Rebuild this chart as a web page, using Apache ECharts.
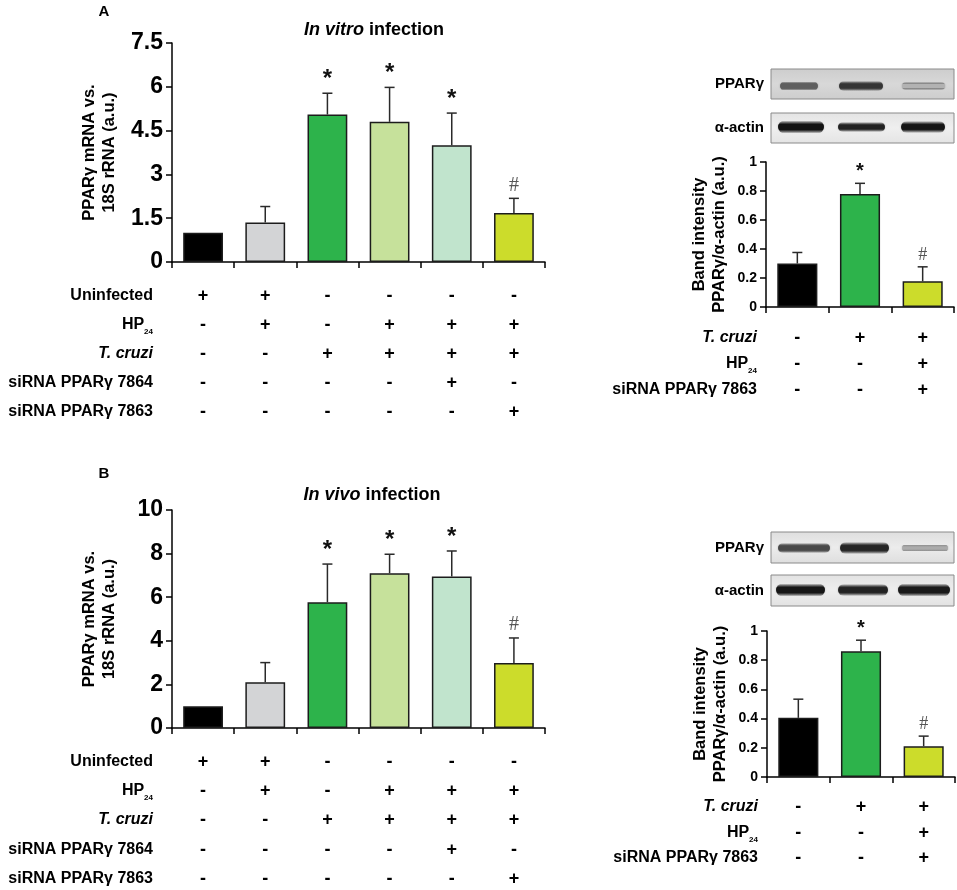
<!DOCTYPE html>
<html>
<head>
<meta charset="utf-8">
<script src="https://cdn.jsdelivr.net/npm/echarts@6/dist/echarts.min.js"></script>
<style>html,body{margin:0;padding:0;background:#fff;}#chart{width:957px;height:890px;}</style>
</head>
<body>
<div id="chart"></div>
<script>
// ---------------- DATA ----------------
const mainCategories = ['1', '2', '3', '4', '5', '6'];
const smallCategories = ['1', '2', '3'];

const vitroMeans = [1.0, 1.35, 5.05, 4.8, 4.0, 1.68];
const vitroSD    = [0, 0.55, 0.73, 1.18, 1.1, 0.5];
const vitroMarks = ['', '', '*', '*', '*', '#'];

const vivoMeans = [1.0, 2.1, 5.77, 7.1, 6.95, 2.98];
const vivoSD    = [0, 0.9, 1.75, 0.87, 1.17, 1.15];
const vivoMarks = ['', '', '*', '*', '*', '#'];

const blotAMeans = [0.30, 0.78, 0.177];
const blotASD    = [0.076, 0.073, 0.10];
const blotAMarks = ['', '*', '#'];

const blotBMeans = [0.405, 0.861, 0.211];
const blotBSD    = [0.128, 0.076, 0.069];
const blotBMarks = ['', '*', '#'];

const mainRowNames = ['Uninfected', 'HP24', 'T. cruzi', 'siRNA PPARγ 7864', 'siRNA PPARγ 7863'];
const mainRows = [
  ['+', '+', '-', '-', '-', '-'],
  ['-', '+', '-', '+', '+', '+'],
  ['-', '-', '+', '+', '+', '+'],
  ['-', '-', '-', '-', '+', '-'],
  ['-', '-', '-', '-', '-', '+']
];
const smallRowNames = ['T. cruzi', 'HP24', 'siRNA PPARγ 7863'];
const smallRows = [
  ['-', '+', '+'],
  ['-', '-', '+'],
  ['-', '-', '+']
];

const vitroTicks = {min: 0, max: 7.5, interval: 1.5};
const vivoTicks = {min: 0, max: 10, interval: 2};
const blotTicks = {min: 0, max: 1, interval: 0.2};

// ---------------- STYLE ----------------
const FONT = '"Liberation Sans", Arial, Helvetica, sans-serif';
const mainColors = ['#000000', '#d3d4d6', '#2db34b', '#c6e19b', '#c1e4cd', '#ccdc2b'];
const smallColors = ['#000000', '#2db34b', '#ccdc2b'];

const grids = [
  {left: 172, top: 43, width: 373, height: 219},
  {left: 172, top: 510, width: 373, height: 218},
  {left: 766, top: 162, width: 188, height: 145},
  {left: 767, top: 631, width: 188, height: 146}
];

const xAxes = [], yAxes = [], series = [];

function rowNameText(name) {
  if (name === 'HP24') return '{b|HP}{s|24}';
  if (name === 'T. cruzi') return '{i|T. cruzi}';
  return '{b|' + name + '}';
}
const rowRich = {
  b: {fontSize: 16, fontWeight: 'bold', fontFamily: FONT, color: '#000', lineHeight: 18},
  i: {fontSize: 16, fontWeight: 'bold', fontStyle: 'italic', fontFamily: FONT, color: '#000', lineHeight: 18},
  s: {fontSize: 8, fontWeight: 'bold', fontFamily: FONT, color: '#000', lineHeight: 18, verticalAlign: 'bottom', padding: [0, 0, -2, 0]}
};

function errRender(marks, capHalf, starSize, hashSize) {
  return function (params, api) {
    const i = params.dataIndex;
    const x = api.value(0);
    const mean = api.value(1);
    const top = api.value(2);
    const p0 = api.coord([x, mean]);
    const p1 = api.coord([x, top]);
    const ch = [];
    if (top > mean) {
      ch.push({type: 'line', shape: {x1: p0[0], y1: p0[1], x2: p1[0], y2: p1[1]}, style: {stroke: '#2a2a2a', lineWidth: 1.5}});
      ch.push({type: 'line', shape: {x1: p1[0] - capHalf, y1: p1[1], x2: p1[0] + capHalf, y2: p1[1]}, style: {stroke: '#2a2a2a', lineWidth: 1.5}});
    }
    const m = marks[i];
    if (m === '*') {
      ch.push({type: 'text', x: p1[0], y: p1[1] - 2, style: {text: '*', fontSize: starSize, fontWeight: 'bold', fontFamily: FONT, fill: '#111', align: 'center', verticalAlign: 'bottom'}});
    } else if (m === '#') {
      ch.push({type: 'text', x: p1[0], y: p1[1] - 3, style: {text: '#', fontSize: hashSize, fontFamily: '"Liberation Serif", "Times New Roman", serif', fill: '#555', align: 'center', verticalAlign: 'bottom'}});
    }
    return {type: 'group', children: ch};
  };
}

function buildPanel(g, cfg) {
  const mainX = xAxes.length;
  xAxes.push({
    gridIndex: g, type: 'category', data: cfg.categories, position: 'bottom', boundaryGap: true,
    axisLine: {show: true, lineStyle: {color: '#000', width: 1.5}},
    axisTick: {show: true, length: 6, lineStyle: {color: '#000', width: 1.5}},
    axisLabel: {show: false}, splitLine: {show: false}
  });
  cfg.rows.forEach(function (row, r) {
    xAxes.push({
      gridIndex: g, type: 'category', data: cfg.categories, position: 'bottom', offset: cfg.rowOffsets[r],
      axisLine: {show: false}, axisTick: {show: false}, splitLine: {show: false},
      axisLabel: {
        show: true, interval: 0, margin: 0, verticalAlign: 'middle',
        fontSize: 18, fontWeight: 'bold', fontFamily: FONT, color: '#000',
        formatter: function (v, idx) { return row[idx]; }
      },
      name: rowNameText(cfg.rowNames[r]), nameLocation: 'start', nameGap: cfg.rowNameGap,
      nameTextStyle: {rich: rowRich, verticalAlign: 'middle'}
    });
  });
  const yIdx = yAxes.length;
  yAxes.push({
    gridIndex: g, type: 'value', min: cfg.ticks.min, max: cfg.ticks.max, interval: cfg.ticks.interval,
    axisLine: {show: true, lineStyle: {color: '#000', width: 1.5}},
    axisTick: {show: true, length: 6, lineStyle: {color: '#000', width: 1.5}},
    axisLabel: {margin: 9, fontSize: cfg.yLabelSize, fontWeight: 'bold', fontFamily: FONT, color: '#000'},
    splitLine: {show: false},
    name: cfg.yName, nameLocation: 'middle', nameGap: cfg.yNameGap,
    nameTextStyle: {fontSize: cfg.yNameSize, fontWeight: 'bold', fontFamily: FONT, color: '#000', lineHeight: cfg.yNameSize + 4}
  });
  series.push({
    type: 'bar', xAxisIndex: mainX, yAxisIndex: yIdx, barWidth: '64%',
    data: cfg.means.map(function (v, i) {
      return {value: v, itemStyle: {color: cfg.colors[i], borderColor: '#1c1c1c', borderWidth: 1.5}};
    }),
    silent: true, animation: false
  });
  series.push({
    type: 'custom', xAxisIndex: mainX, yAxisIndex: yIdx, z: 5,
    data: cfg.means.map(function (v, i) { return [i, v, v + cfg.sd[i]]; }),
    renderItem: errRender(cfg.marks, 5, cfg.starSize, cfg.hashSize),
    silent: true, animation: false
  });
}

buildPanel(0, {
  categories: mainCategories, means: vitroMeans, sd: vitroSD, marks: vitroMarks, colors: mainColors,
  ticks: vitroTicks, rows: mainRows, rowNames: mainRowNames, rowOffsets: [34, 63, 92, 121, 150], rowNameGap: 19,
  yName: 'PPARγ mRNA vs.\n18S rRNA (a.u.)', yNameGap: 52, yNameSize: 16.5, yLabelSize: 23, starSize: 24, hashSize: 20
});
buildPanel(1, {
  categories: mainCategories, means: vivoMeans, sd: vivoSD, marks: vivoMarks, colors: mainColors,
  ticks: vivoTicks, rows: mainRows, rowNames: mainRowNames, rowOffsets: [34, 63, 92, 122, 151], rowNameGap: 19,
  yName: 'PPARγ mRNA vs.\n18S rRNA (a.u.)', yNameGap: 52, yNameSize: 16.5, yLabelSize: 23, starSize: 24, hashSize: 20
});
buildPanel(2, {
  categories: smallCategories, means: blotAMeans, sd: blotASD, marks: blotAMarks, colors: smallColors,
  ticks: blotTicks, rows: smallRows, rowNames: smallRowNames, rowOffsets: [31, 57, 83], rowNameGap: 9,
  yName: 'Band intensity\nPPARγ/α-actin (a.u.)', yNameGap: 36, yNameSize: 16.5, yLabelSize: 14, starSize: 20, hashSize: 18
});
buildPanel(3, {
  categories: smallCategories, means: blotBMeans, sd: blotBSD, marks: blotBMarks, colors: smallColors,
  ticks: blotTicks, rows: smallRows, rowNames: smallRowNames, rowOffsets: [30, 56, 81], rowNameGap: 9,
  yName: 'Band intensity\nPPARγ/α-actin (a.u.)', yNameGap: 36, yNameSize: 16.5, yLabelSize: 14, starSize: 20, hashSize: 18
});

// ---------------- Decorations (titles, letters, blot pictures) ----------------
function bandRect(x1, x2, yc, thick, color) {
  return {
    type: 'rect', shape: {x: x1, y: yc - thick, width: x2 - x1, height: thick * 2, r: thick},
    style: {fill: {type: 'linear', x: 0, y: 0, x2: 0, y2: 1, colorStops: [
      {offset: 0, color: 'rgba(0,0,0,0)'}, {offset: 0.3, color: color}, {offset: 0.7, color: color}, {offset: 1, color: 'rgba(0,0,0,0)'}]},
      shadowBlur: 2, shadowColor: 'rgba(0,0,0,0.25)'}
  };
}
function blotBox(y, h, bg, bands) {
  const els = [{type: 'rect', shape: {x: 771, y: y, width: 183, height: h},
    style: {fill: {type: 'linear', x: 0, y: 0, x2: 0, y2: 1, colorStops: [
      {offset: 0, color: bg[0]}, {offset: 0.5, color: bg[1]}, {offset: 1, color: bg[0]}]}, stroke: '#8a8a8a', lineWidth: 1}}];
  bands.forEach(function (b) { els.push(bandRect(b[0], b[1], b[2], b[3], b[4])); });
  return els;
}
function label(text, x, y, size, align) {
  return {type: 'text', x: x, y: y, style: {text: text, fontSize: size, fontWeight: 'bold', fontFamily: FONT, fill: '#000', align: align || 'center', verticalAlign: 'middle'}};
}
const titleRich = {
  i: {fontSize: 18, fontWeight: 'bold', fontStyle: 'italic', fontFamily: FONT, fill: '#000'},
  n: {fontSize: 18, fontWeight: 'bold', fontFamily: FONT, fill: '#000'}
};
const graphics = [
  label('A', 104, 12, 15),
  label('B', 104, 474, 15),
  {type: 'text', x: 374, y: 30, style: {text: '{i|In vitro}{n| infection}', rich: titleRich, align: 'center', verticalAlign: 'middle'}},
  {type: 'text', x: 372, y: 495, style: {text: '{i|In vivo}{n| infection}', rich: titleRich, align: 'center', verticalAlign: 'middle'}},
  label('PPARγ', 764, 84, 15, 'right'),
  label('α-actin', 764, 128, 15, 'right'),
  label('PPARγ', 764, 548, 15, 'right'),
  label('α-actin', 764, 591, 15, 'right')
].concat(
  blotBox(69, 30, ['#cdcdcd', '#d8d8d8'], [[780, 818, 86, 4.5, '#5f5f5f'], [839, 883, 86, 5, '#353535'], [902, 945, 86, 4, '#b2b2b2']]),
  blotBox(113, 30, ['#e4e4e4', '#efefef'], [[778, 824, 127, 6.5, '#121212'], [838, 885, 127, 5, '#222'], [901, 945, 127, 6, '#151515']]),
  blotBox(532, 31, ['#dedede', '#ececec'], [[778, 830, 548, 5, '#484848'], [840, 889, 548, 6, '#262626'], [902, 948, 548, 3.5, '#ababab']]),
  blotBox(575, 31, ['#e2e2e2', '#eeeeee'], [[776, 825, 590, 6.5, '#161616'], [838, 888, 590, 6, '#232323'], [898, 950, 590, 6.5, '#1a1a1a']])
);

const chart = echarts.init(document.getElementById('chart'), null, {renderer: 'canvas'});
chart.setOption({
  animation: false,
  backgroundColor: '#ffffff',
  grid: grids.map(function (g) { return Object.assign({containLabel: false}, g); }),
  xAxis: xAxes,
  yAxis: yAxes,
  series: series,
  graphic: graphics
});
</script>
</body>
</html>
